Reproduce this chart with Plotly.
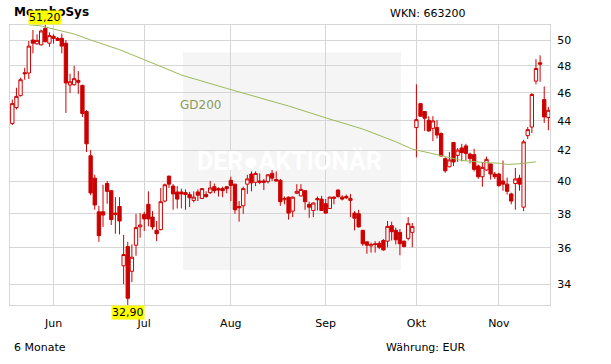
import numpy as np
import pandas as pd
import plotly.graph_objects as go

# ---- data ----
dates = [d.strftime("%Y-%m-%d") for d in pd.bdate_range("2016-05-18", "2016-11-17")
         if d.strftime("%Y-%m-%d") != "2016-10-03"]

open_ = [43.82, 44.94, 45.79, 47.48, 47.46, 50.00, 49.70, 49.62, 50.93, 49.75,
         50.29, 50.13, 50.13, 49.75, 46.57, 46.59, 46.91, 46.54, 44.66, 41.65,
         40.20, 38.12, 38.12, 39.86, 39.41, 38.04, 38.44, 35.00, 36.08, 34.70,
         36.16, 37.22, 37.96, 38.57, 37.80, 37.02, 37.06, 38.77, 40.33, 39.70,
         39.33, 39.33, 39.29, 39.17, 38.81, 39.33, 38.93, 39.17, 39.29, 39.66,
         39.54, 39.54, 39.66, 40.06, 39.82, 38.44, 38.48, 39.82, 40.46, 39.94,
         40.02, 40.02, 39.98, 40.50, 40.11, 40.06, 38.85, 39.01, 38.16, 39.25,
         39.09, 39.41, 38.57, 38.20, 38.93, 38.89, 38.61, 38.32, 38.93, 39.45,
         39.01, 39.05, 38.81, 38.04, 38.00, 37.02, 36.35, 36.12, 36.24, 36.27,
         36.43, 36.39, 37.29, 37.02, 36.90, 36.39, 36.55, 36.90, 43.54, 45.22,
         44.66, 44.05, 43.49, 43.54, 43.13, 41.46, 40.93, 42.53, 41.67, 42.16,
         42.30, 41.76, 41.72, 40.98, 40.29, 40.72, 41.11, 40.46, 40.46, 40.02,
         39.82, 39.21, 39.86, 40.20, 38.40, 42.99, 43.58, 46.86, 48.23, 45.51,
         44.24]
high = [45.51, 46.37, 47.11, 47.85, 49.92, 50.80, 50.45, 50.83, 51.20, 50.61,
        50.45, 50.24, 50.51, 50.00, 47.41, 48.00, 47.60, 46.60, 44.75, 42.02,
        40.41, 38.48, 39.78, 40.02, 39.45, 39.01, 39.01, 36.75, 36.35, 36.20,
        38.00, 38.04, 38.12, 39.37, 38.16, 37.57, 39.58, 39.86, 40.35, 39.82,
        39.70, 39.54, 39.49, 39.33, 39.37, 39.49, 39.56, 39.37, 40.02, 39.86,
        39.62, 39.66, 39.70, 40.29, 39.84, 38.77, 39.66, 40.41, 40.63, 40.63,
        40.50, 40.15, 40.46, 40.72, 40.63, 40.15, 39.05, 39.05, 39.05, 39.82,
        39.82, 39.45, 38.73, 38.69, 39.05, 39.09, 38.89, 39.05, 39.05, 39.49,
        39.13, 39.17, 39.21, 38.16, 38.24, 37.04, 36.37, 36.31, 36.39, 36.39,
        36.51, 37.57, 37.53, 37.18, 37.10, 36.43, 37.80, 37.45, 46.62, 45.25,
        44.68, 44.33, 44.33, 44.05, 43.22, 41.54, 41.89, 42.55, 42.16, 42.44,
        42.44, 41.85, 42.11, 41.07, 41.24, 41.59, 41.13, 40.59, 40.54, 41.33,
        40.24, 39.29, 40.85, 40.41, 42.71, 43.58, 45.98, 48.51, 48.81, 46.47,
        44.99]
low = [43.72, 44.80, 45.74, 46.96, 47.01, 48.96, 49.62, 49.57, 49.82, 49.47,
       49.72, 49.92, 48.96, 44.56, 45.98, 46.52, 45.93, 44.28, 41.89, 39.13,
       38.24, 36.35, 37.22, 38.61, 37.33, 36.82, 36.78, 34.00, 32.90, 34.11,
       35.56, 36.59, 36.98, 37.25, 37.06, 36.39, 37.02, 38.69, 39.58, 38.24,
       38.32, 38.32, 38.24, 38.40, 38.69, 38.77, 38.89, 38.97, 39.21, 39.25,
       39.05, 39.01, 39.25, 38.77, 38.00, 37.53, 38.00, 39.21, 39.37, 39.70,
       39.82, 39.45, 39.86, 40.02, 39.98, 38.48, 38.57, 37.65, 37.80, 39.20,
       39.05, 38.24, 37.76, 37.80, 38.20, 38.16, 38.00, 38.28, 38.57, 38.97,
       38.81, 38.89, 37.80, 37.02, 37.18, 36.12, 35.67, 35.74, 35.74, 35.93,
       35.85, 36.04, 36.43, 36.20, 35.59, 36.04, 36.43, 36.04, 41.54, 44.30,
       43.31, 43.26, 42.62, 42.80, 41.59, 40.54, 40.89, 40.98, 41.24, 41.28,
       41.33, 41.15, 40.63, 40.15, 39.66, 40.67, 40.11, 40.15, 39.66, 39.41,
       39.17, 38.57, 38.24, 39.41, 38.16, 42.76, 43.17, 46.62, 46.81, 43.86,
       43.36]
close = [45.22, 45.74, 46.96, 47.41, 49.52, 49.75, 49.97, 50.72, 49.87, 50.35,
         50.13, 49.97, 49.52, 46.72, 46.81, 47.04, 46.77, 44.52, 42.44, 39.27,
         38.53, 36.71, 37.92, 39.37, 37.65, 37.96, 37.57, 35.63, 33.25, 35.48,
         37.18, 37.33, 37.69, 37.69, 37.22, 36.82, 38.73, 39.78, 39.82, 39.21,
         38.89, 39.21, 39.17, 38.97, 39.01, 39.13, 39.54, 39.05, 39.58, 39.41,
         39.45, 39.41, 39.54, 39.74, 38.24, 38.36, 39.54, 40.15, 39.90, 40.50,
         39.94, 39.94, 40.41, 40.20, 40.02, 38.73, 38.93, 38.04, 39.01, 39.37,
         39.49, 38.73, 38.40, 38.65, 38.85, 38.20, 38.04, 39.01, 39.01, 39.05,
         38.89, 38.97, 38.93, 37.73, 37.22, 36.24, 36.16, 36.20, 36.20, 36.04,
         35.89, 37.25, 36.94, 36.47, 36.24, 36.08, 37.41, 37.25, 44.09, 44.33,
         44.19, 43.31, 44.00, 43.03, 41.63, 40.67, 41.37, 41.24, 42.02, 41.85,
         41.80, 41.46, 40.76, 40.29, 40.89, 41.41, 40.46, 40.29, 39.74, 39.82,
         39.37, 38.77, 40.15, 39.82, 42.57, 43.40, 45.88, 47.80, 48.13, 44.28,
         44.75]

gd200_dates = ["2016-05-24", "2016-05-27", "2016-06-01", "2016-06-08", "2016-06-14",
               "2016-06-20", "2016-06-23", "2016-07-01", "2016-07-14", "2016-07-29",
               "2016-08-09", "2016-08-19", "2016-09-02", "2016-09-14", "2016-09-26",
               "2016-09-30", "2016-10-10", "2016-10-19", "2016-10-26", "2016-11-01",
               "2016-11-03", "2016-11-08", "2016-11-14"]
gd200_values = [51.22, 51.13, 50.87, 50.48, 50.00, 49.57, 49.24, 48.47, 47.31, 46.32,
                45.74, 45.05, 44.13, 43.44, 42.58, 42.09, 41.78, 41.34, 41.21, 41.16,
                41.08, 41.12, 41.25]

month_ticks = ["2016-06-01", "2016-07-01", "2016-08-01", "2016-09-01", "2016-10-04", "2016-11-01"]
month_labels = ["Jun", "Jul", "Aug", "Sep", "Okt", "Nov"]
price_ticks = [34, 36, 38, 40, 42, 44, 46, 48, 50]

RED = "#cc0000"
GRID = "#d6d6d6"
FONT = "DejaVu Sans"

fig = go.Figure()
fig.add_trace(go.Candlestick(
    x=dates, open=open_, high=high, low=low, close=close,
    increasing=dict(line=dict(color=RED, width=1), fillcolor="white"),
    decreasing=dict(line=dict(color=RED, width=1), fillcolor=RED),
    whiskerwidth=0, hoverinfo="skip", showlegend=False,
))
fig.add_trace(go.Scatter(
    x=gd200_dates, y=gd200_values, mode="lines",
    line=dict(color="#9cba5a", width=1), hoverinfo="skip", showlegend=False,
))

ymin, ymax = min(low), max(high)
i_hi = high.index(ymax)
i_lo = low.index(ymin)

def fmt(v):
    return f"{v:.2f}".replace(".", ",")

annotations = [
    dict(x=0.5185, y=0.514, xref="paper", yref="paper", text="<b>DER●AKTIONÄR</b>",
         showarrow=False, font=dict(family="Roboto", size=25, color="white"),
         xanchor="center", yanchor="middle"),
    dict(x=0.3537, y=0.714, xref="paper", yref="paper", text="GD200",
         showarrow=False, font=dict(family=FONT, size=12, color="#8a9a5b"),
         xanchor="center", yanchor="middle"),
    dict(x=(12 - 10) / 540, y=(305 - 12.5) / 280, xref="paper", yref="paper",
         text="<b>MorphoSys</b>", showarrow=False, xanchor="left", yanchor="middle",
         font=dict(family=FONT, size=12, color="black")),
    dict(x=(468 - 10) / 540, y=(305 - 13.5) / 280, xref="paper", yref="paper",
         text="WKN: 663200", showarrow=False, xanchor="right", yanchor="middle",
         font=dict(family=FONT, size=11, color="black")),
    dict(x=(12 - 10) / 540, y=(305 - 347) / 280, xref="paper", yref="paper",
         text="6 Monate", showarrow=False, xanchor="left", yanchor="middle",
         font=dict(family=FONT, size=11, color="black")),
    dict(x=(468 - 10) / 540, y=(305 - 347) / 280, xref="paper", yref="paper",
         text="Währung: EUR", showarrow=False, xanchor="right", yanchor="middle",
         font=dict(family=FONT, size=11, color="black")),
    dict(x=dates[i_hi], y=np.log10(ymax), xref="x", yref="y", text=fmt(ymax),
         showarrow=False, yanchor="bottom", bgcolor="#ffff00", borderpad=0,
         font=dict(family=FONT, size=11, color="black")),
    dict(x=dates[i_lo], y=np.log10(ymin), xref="x", yref="y", text=fmt(ymin),
         showarrow=False, yanchor="top", bgcolor="#ffff00", borderpad=0,
         font=dict(family=FONT, size=11, color="black")),
]

shapes = [
    dict(type="rect", xref="paper", yref="paper", x0=0.3204, x1=0.724, y0=0.125, y1=0.9018,
         fillcolor="#f5f5f5", line=dict(width=0), layer="below"),
]

fig.update_layout(
    width=611, height=364,
    margin=dict(l=10, r=61, t=25, b=59),
    paper_bgcolor="white", plot_bgcolor="white",
    font=dict(family=FONT, size=11, color="black"),
    showlegend=False,
    boxgap=0.1, boxgroupgap=0.1,
    annotations=annotations, shapes=shapes,
    xaxis=dict(type="category", range=[-0.56, 130.4], tickmode="array",
               tickvals=month_ticks, ticktext=month_labels,
               showgrid=True, gridcolor=GRID, gridwidth=1,
               showline=True, linecolor=GRID, linewidth=1, mirror=True,
               ticks="", ticklabelstandoff=8, rangeslider=dict(visible=False),
               tickfont=dict(family=FONT, size=11, color="black")),
    yaxis=dict(type="log", range=[np.log10(ymin), np.log10(ymax)], side="right",
               tickmode="array", tickvals=price_ticks, ticktext=[str(v) for v in price_ticks],
               showgrid=True, gridcolor=GRID, gridwidth=1, zeroline=False,
               showline=True, linecolor=GRID, linewidth=1, mirror=True,
               ticks="", ticklabelstandoff=4,
               tickfont=dict(family=FONT, size=11, color="black")),
)

fig.write_html("out.html")
